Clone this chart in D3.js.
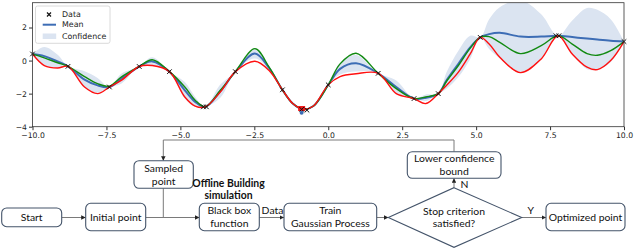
<!DOCTYPE html>
<html>
<head>
<meta charset="utf-8">
<script src="https://cdn.jsdelivr.net/npm/d3@7"></script>
<style>
  body { margin: 0; background: #fff; }
  svg { display: block; }
  .tick text { font-family: "DejaVu Sans", sans-serif; font-size: 7.7px; fill: #222; }
  .flow text { font-family: Lato, "Open Sans", sans-serif; font-size: 10.4px; fill: #111; }
</style>
</head>
<body>
<svg width="640" height="248"></svg>
<script>
// knots (x positions and curve values)
const knotX = [-10, -9.6, -9.15, -8.8, -8.24, -7.8, -7.4, -7.0, -6.39, -5.95, -5.37, -4.85, -4.5, -4.16,
  -3.65, -3.14, -2.48, -2.0, -1.55, -1.2, -0.85, -0.5, 0, 0.4, 0.94, 1.69, 2.3, 2.9, 3.3, 3.72,
  4.0, 4.4, 4.8, 5.14, 5.44, 5.8, 6.5, 7.2, 7.77, 8.25, 8.75, 9.1, 9.55, 10];
const meanY = [0.4, 0.27, -0.05, -0.35, -1.15, -1.5, -1.6, -1.1, -0.36, -0.05, -0.67, -1.8, -2.5, -2.8,
  -1.85, -0.67, 0.42, -0.45, -1.77, -2.6, -2.95, -2.75, -1.47, -0.5, -0.16, -0.77, -1.6, -2.3, -2.25, -2.0,
  -1.2, -0.2, 0.8, 1.4, 1.6, 1.68, 1.45, 1.45, 1.5, 1.42, 1.33, 1.27, 1.2, 1.15];
const confHalf = [0, 0.55, 0.4, 0, 0.5, 0.45, 0, 0.3, 0, 0.25, 0, 0.5, 0.3, 0,
  0.4, 0, 0.3, 0.1, 0, 0.05, 0, 0.05, 0, 0.35, 0.5, 0, 0.4, 0, 0.2, 0,
  0.5, 0.8, 0.7, 0, 0.9, 1.55, 2.2, 1.35, 0, 1.0, 1.85, 1.8, 1.3, 0];
const greenY = [0.4, 0.16, -0.13, -0.35, -0.97, -1.4, -1.55, -1.0, -0.36, 0.05, -0.67, -1.6, -2.4, -2.8,
  -1.8, -0.67, 0.72, -0.4, -1.77, -2.6, -2.95, -2.75, -1.47, -0.2, 0.44, -0.77, -1.7, -2.3, -2.2, -2.0,
  -1.25, -0.3, 0.75, 1.4, 1.45, 1.1, 0.42, 0.9, 1.5, 1.0, 0.42, 0.32, 0.6, 1.15];
const redY = [0.4, -0.3, -0.45, -0.35, -1.6, -2.0, -1.6, -1.2, -0.36, -0.3, -0.67, -2.2, -2.75, -2.8,
  -1.9, -0.67, -0.04, -0.6, -1.77, -2.6, -2.95, -2.75, -1.47, -0.97, -0.8, -0.77, -2.0, -2.3, -2.6, -2.0,
  -1.5, -0.7, 0.4, 1.4, 1.0, 0.2, -0.73, 0.1, 1.5, 0.4, -0.4, -0.55, 0.0, 1.15];
const dataX = [-10, -8.8, -7.4, -6.39, -5.37, -4.22, -4.12, -3.14, -1.55, -0.9, -0.72, 0, 1.69, 2.9, 3.72, 5.14, 7.7, 7.8, 10];
const dataY = [0.4, -0.35, -1.6, -0.36, -0.67, -2.8, -2.8, -0.67, -1.77, -2.95, -3.0, -1.47, -0.77, -2.3, -2.0, 1.4, 1.5, 1.5, 1.15];
const bestPoint = [-0.9, -2.9];
const nextPoint = [-0.9, -3.15];
const xTicks = [-10, -7.5, -5, -2.5, 0, 2.5, 5, 7.5, 10];
const yTicks = [-4, -2, 0, 2];

const svg = d3.select("svg");
const x = d3.scaleLinear().domain([-10, 10]).range([32.5, 624]);
const y = d3.scaleLinear().domain([-4, 3.5]).range([126.7, 2.7]);

svg.append("defs").append("clipPath").attr("id", "plotclip")
  .append("rect").attr("x", 32.5).attr("y", 2.7).attr("width", 591.5).attr("height", 124);

const plot = svg.append("g").attr("clip-path", "url(#plotclip)");
const curve = d3.curveCatmullRom.alpha(0.5);

// confidence band
const band = d3.area()
  .x(i => x(knotX[i]))
  .y0(i => y(meanY[i] - confHalf[i]))
  .y1(i => y(meanY[i] + confHalf[i]))
  .curve(curve);
plot.append("path").attr("d", band(d3.range(knotX.length)))
  .attr("fill", "#dbe4f1").attr("stroke", "none");

function line(vals) {
  return d3.line().x(i => x(knotX[i])).y(i => y(vals[i])).curve(curve)(d3.range(knotX.length));
}
plot.append("path").attr("d", line(meanY)).attr("fill", "none").attr("stroke", "#3d6db5").attr("stroke-width", 2);
plot.append("path").attr("d", line(greenY)).attr("fill", "none").attr("stroke", "#128a12").attr("stroke-width", 1.4);
plot.append("path").attr("d", line(redY)).attr("fill", "none").attr("stroke", "#ff1010").attr("stroke-width", 1.4);

plot.append("rect").attr("x", x(bestPoint[0]) - 3.5).attr("y", y(bestPoint[1]) - 2.5)
  .attr("width", 7).attr("height", 5).attr("fill", "#f01818");
plot.append("circle").attr("cx", x(nextPoint[0])).attr("cy", y(nextPoint[1])).attr("r", 2).attr("fill", "#3d6db5");

// data markers
const cross = "M-2.3,-2.3L2.3,2.3M-2.3,2.3L2.3,-2.3";
svg.append("g").selectAll("path").data(dataX).join("path")
  .attr("transform", (d, i) => `translate(${x(d)},${y(dataY[i])})`)
  .attr("d", cross).attr("stroke", "#111").attr("stroke-width", 1);

// axes
const xAxis = svg.append("g").attr("transform", "translate(0,126.7)")
  .call(d3.axisBottom(x).tickValues(xTicks).tickFormat(d3.format(".1f")).tickSize(3.5).tickPadding(2));
const yAxis = svg.append("g").attr("transform", "translate(32.5,0)")
  .call(d3.axisLeft(y).tickValues(yTicks).tickFormat(d3.format("d")).tickSize(3.5).tickPadding(2));
[xAxis, yAxis].forEach(a => { a.select(".domain").remove(); a.selectAll("line").attr("stroke", "#333"); });
svg.append("rect").attr("x", 32.5).attr("y", 2.7).attr("width", 591.5).attr("height", 124)
  .attr("fill", "none").attr("stroke", "#333").attr("stroke-width", 0.8);

// legend
const lg = svg.append("g").attr("font-family", "DejaVu Sans, sans-serif").attr("font-size", 7.9);
lg.append("rect").attr("x", 35.5).attr("y", 6).attr("width", 74.5).attr("height", 37.3).attr("rx", 2)
  .attr("fill", "#fff").attr("fill-opacity", 0.85).attr("stroke", "#d0d0d0").attr("stroke-width", 0.8);
lg.append("path").attr("transform", "translate(49,14.5)").attr("d", "M-2,-2L2,2M-2,2L2,-2")
  .attr("stroke", "#111").attr("stroke-width", 1.2);
lg.append("line").attr("x1", 42.7).attr("x2", 56).attr("y1", 24.7).attr("y2", 24.7)
  .attr("stroke", "#3d6db5").attr("stroke-width", 2);
lg.append("rect").attr("x", 42.7).attr("y", 33.5).attr("width", 13.5).attr("height", 5.5).attr("fill", "#dbe4f1");
[["Data", 14.5], ["Mean", 24.7], ["Confidence", 36.3]].forEach(([t, ty]) =>
  lg.append("text").attr("x", 62).attr("y", ty).attr("dy", "0.35em").attr("fill", "#222").text(t));

// flowchart
const flow = svg.append("g").attr("class", "flow");
const boxes = [
  { x0: 1.7, x1: 61.7, y0: 208, y1: 226.7, lines: ["Start"] },
  { x0: 85.7, x1: 145.7, y0: 203.3, y1: 230.7, lines: ["Initial point"] },
  { x0: 134, x1: 193.3, y0: 160.7, y1: 188.3, lines: ["Sampled", "point"] },
  { x0: 199.3, x1: 259.3, y0: 203.3, y1: 230.7, lines: ["Black box", "function"] },
  { x0: 284, x1: 376.7, y0: 203.3, y1: 230.7, lines: ["Train", "Gaussian Process"] },
  { x0: 407.3, x1: 501, y0: 151.7, y1: 178.3, lines: ["Lower confidence", "bound"] },
  { x0: 546, x1: 625, y0: 203.3, y1: 230.7, lines: ["Optimized point"] }
];
const defs = svg.select("defs");
defs.append("marker").attr("id", "arr").attr("viewBox", "0 0 10 10").attr("refX", 10).attr("refY", 5)
  .attr("markerWidth", 4.5).attr("markerHeight", 4.5).attr("orient", "auto")
  .append("path").attr("d", "M0,0L10,5L0,10z").attr("fill", "#222");

const links = [
  [[61.7, 217.5], [85.7, 217.5]],
  [[145.7, 217.5], [199.3, 217.5]],
  [[259.3, 217.5], [284, 217.5]],
  [[376.7, 217.5], [388.3, 217.5]],
  [[454, 187.7], [454, 178.3]],
  [[454, 151.7], [454, 140], [163.3, 140], [163.3, 160.7]],
  [[521.7, 217.5], [546, 217.5]]
];
links.forEach(p => flow.append("path").attr("d", d3.line()(p)).attr("fill", "none")
  .attr("stroke", "#7a7a7a").attr("stroke-width", 1).attr("marker-end", "url(#arr)"));
flow.append("path").attr("d", d3.line()([[163.3, 188.3], [163.3, 217.5]]))
  .attr("stroke", "#7a7a7a").attr("stroke-width", 1);

boxes.forEach(b => {
  flow.append("rect").attr("x", b.x0).attr("y", b.y0).attr("width", b.x1 - b.x0).attr("height", b.y1 - b.y0)
    .attr("rx", 5).attr("fill", "#fff").attr("stroke", "#44546a").attr("stroke-width", 1.1);
  const cx = (b.x0 + b.x1) / 2, cy = (b.y0 + b.y1) / 2;
  b.lines.forEach((t, i) => {
    const off = b.lines.length === 1 ? 0 : (i === 0 ? -6.5 : 6.5);
    flow.append("text").attr("x", cx).attr("y", cy + off).attr("dy", "0.35em")
      .attr("text-anchor", "middle").text(t);
  });
});

flow.append("path").attr("d", "M454,187.7L521.7,217.5L454,247.3L388.3,217.5Z")
  .attr("fill", "#fff").attr("stroke", "#44546a").attr("stroke-width", 1.1);
[["Stop criterion", 211.7], ["satisfied?", 223.5]].forEach(([t, ty]) =>
  flow.append("text").attr("x", 454).attr("y", ty).attr("dy", "0.35em").attr("text-anchor", "middle").text(t));

[["Data", 272.5, 210.7, "normal"], ["N", 464.5, 184.3, "normal"], ["Y", 530.7, 210.7, "normal"],
 ["Offline Building", 228.5, 183.3, "bold"], ["simulation", 228.5, 195, "bold"]].forEach(([t, tx, ty, w]) =>
  flow.append("text").attr("x", tx).attr("y", ty).attr("dy", "0.35em").attr("text-anchor", "middle")
    .attr("font-weight", w).text(t));
</script>
</body>
</html>
